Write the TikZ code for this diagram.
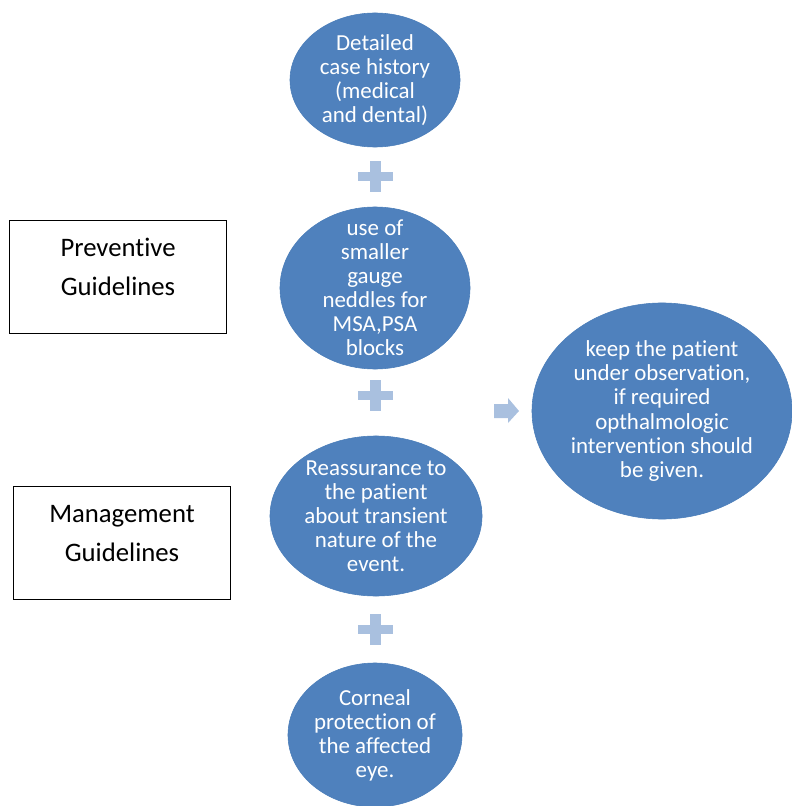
\documentclass[tikz,border=0pt]{standalone}
\usepackage{fontspec}
\setmainfont{Carlito}[Ligatures=NoCommon]
\usepackage{tikz}
\usetikzlibrary{calc,shapes.geometric}
\definecolor{bubble}{HTML}{4F81BD}
\definecolor{bubbleedge}{HTML}{4A7DB9}
\definecolor{signfill}{HTML}{A9C0DF}
\def\plussign(#1){\fill[signfill] ($(#1)+(-17.5,-4.5)$) rectangle ($(#1)+(17.5,4.5)$);
	\fill[signfill] ($(#1)+(-5.5,-15.5)$) rectangle ($(#1)+(5.5,15.5)$);}

\begin{document}
\begin{tikzpicture}[x=0.025cm, y=-0.025cm,
	bub/.style={ellipse, fill=bubble, draw=bubbleedge, line width=0.4pt, inner sep=-1.5cm, align=center, text=white, font=\fontsize{16.3}{17.1}\selectfont},
	gbox/.style={draw=black, line width=0.7pt, align=center, inner sep=0pt, minimum width=5.4cm, font=\fontsize{19}{27.7}\selectfont, text depth=0.5cm}]
			%%%%% START %%%%%
			
			\useasboundingbox (0, 0) rectangle (791, 806);
			
			\node[bub, minimum width=4.25cm, minimum height=3.35cm] (hist) at (375, 80) {Detailed\\case history\\(medical\\and dental)};
			\node[bub, minimum width=4.75cm, minimum height=4.05cm] (gauge) at (375, 288) {use of\\smaller\\gauge\\neddles for\\MSA,PSA\\blocks};
			\node[bub, minimum width=5.3cm, minimum height=4.0cm] (reas) at (376, 516) {Reassurance to\\the patient\\about transient\\nature of the\\event.};
			\node[bub, minimum width=4.35cm, minimum height=3.6cm] (eye) at (375, 735) {Corneal\\protection of\\the affected\\eye.};
			\node[bub, minimum width=6.5cm, minimum height=5.4cm] (obs) at (662, 411) {keep the patient\\under observation,\\if required\\opthalmologic\\intervention should\\be given.};
			
			\node[gbox, minimum height=2.8cm] (prev) at (118, 277) {Preventive\\Guidelines};
			\node[gbox, minimum height=2.83cm] (mgmt) at (122, 543) {Management\\Guidelines};
			
			\coordinate (p1) at ($(hist.south)!0.5!(gauge.north)$);
			\coordinate (p2) at ($(gauge.south)!0.4!(reas.north)$);
			\coordinate (p3) at ($(reas.south)!0.5!(eye.north)$);
			\plussign(p1)
			\plussign(p2)
			\plussign(p3)
			
			\fill[signfill] (494, 404) -- (508, 404) -- (508, 398) -- (519, 411) -- (508, 423) -- (508, 418) -- (494, 418) -- cycle;
			
			%%%%% END %%%%%
\end{tikzpicture}
\end{document}
